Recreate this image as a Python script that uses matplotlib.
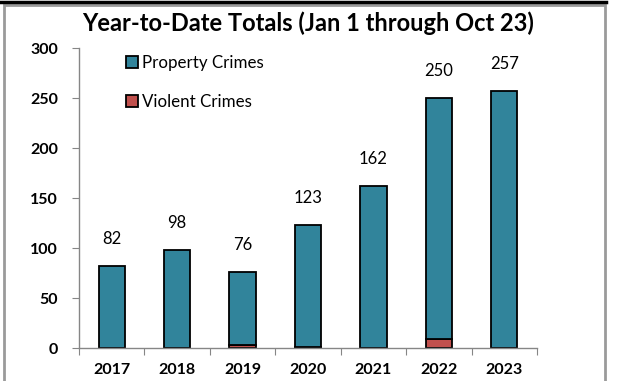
import matplotlib.pyplot as plt
from matplotlib.lines import Line2D
from matplotlib.patches import Patch, Rectangle
import numpy as np

years = ["2017", "2018", "2019", "2020", "2021", "2022", "2023"]
totals = [82, 98, 76, 123, 162, 250, 257]
violent = [0, 0, 3, 1, 0, 9, 0]
property_crimes = [t - v for t, v in zip(totals, violent)]

plt.rcParams["font.family"] = ["Lato", "DejaVu Sans"]

PROPERTY_COLOR = "#31849B"
VIOLENT_COLOR = "#C0504D"
AXIS_GRAY = "#868686"

fig = plt.figure(figsize=(6.18, 3.81), dpi=100)
ax = fig.add_axes([79 / 618, 1 - 348 / 381, (537 - 79) / 618, 300 / 381])

x = np.arange(len(years))
ax.bar(x, violent, width=0.4, color=VIOLENT_COLOR, edgecolor="black", linewidth=1.3)
ax.bar(x, property_crimes, width=0.4, bottom=violent, color=PROPERTY_COLOR,
       edgecolor="black", linewidth=1.3)

for xi, total in zip(x, totals):
    ax.annotate(str(total), (xi, total), xytext=(0, 27), textcoords="offset pixels",
                ha="center", va="center", fontsize=12)

ax.set_xlim(-0.5, len(years) - 0.5)
ax.set_ylim(0, 300)
ax.set_yticks(range(0, 301, 50))
ax.set_xticks(np.arange(len(years) + 1) - 0.5, minor=False)
ax.set_xticklabels([])
ax.set_xticks(x, minor=True)
ax.set_xticklabels(years, minor=True, fontweight="bold", fontsize=11.5)
ax.tick_params(axis="x", which="major", length=5, color=AXIS_GRAY, direction="out")
ax.tick_params(axis="x", which="minor", length=0, pad=11)
ax.tick_params(axis="y", length=5, color=AXIS_GRAY, labelsize=11.5, pad=10)
for label in ax.get_yticklabels():
    label.set_fontweight("bold")

for side in ("top", "right"):
    ax.spines[side].set_visible(False)
for side in ("left", "bottom"):
    ax.spines[side].set_color(AXIS_GRAY)
    ax.spines[side].set_linewidth(1.0)

handles = [
    Patch(facecolor=PROPERTY_COLOR, edgecolor="black", linewidth=1.3, label="Property Crimes"),
    Patch(facecolor=VIOLENT_COLOR, edgecolor="black", linewidth=1.3, label="Violent Crimes"),
]
ax.legend(handles=handles, loc="upper left", bbox_to_anchor=(0.07, 1.027), frameon=False,
          fontsize=12.2, handlelength=0.7, handleheight=0.7, handletextpad=0.2,
          labelspacing=1.32)

fig.text(308 / 618, 1 - 23 / 381, "Year-to-Date Totals (Jan 1 through Oct 23)",
         ha="center", va="center", fontsize=17, fontweight="bold")

# outer chart frame
fig.add_artist(Rectangle((4 / 618, -0.05), 601 / 618, 1 - 5 / 381 + 0.05,
                         transform=fig.transFigure, fill=False,
                         edgecolor="#9a9a9a", linewidth=2.0))
fig.add_artist(Line2D([0, 606 / 618], [1 - 2 / 381, 1 - 2 / 381],
                      transform=fig.transFigure, color="black", linewidth=2.5))

fig.savefig("out.png", dpi=100)
